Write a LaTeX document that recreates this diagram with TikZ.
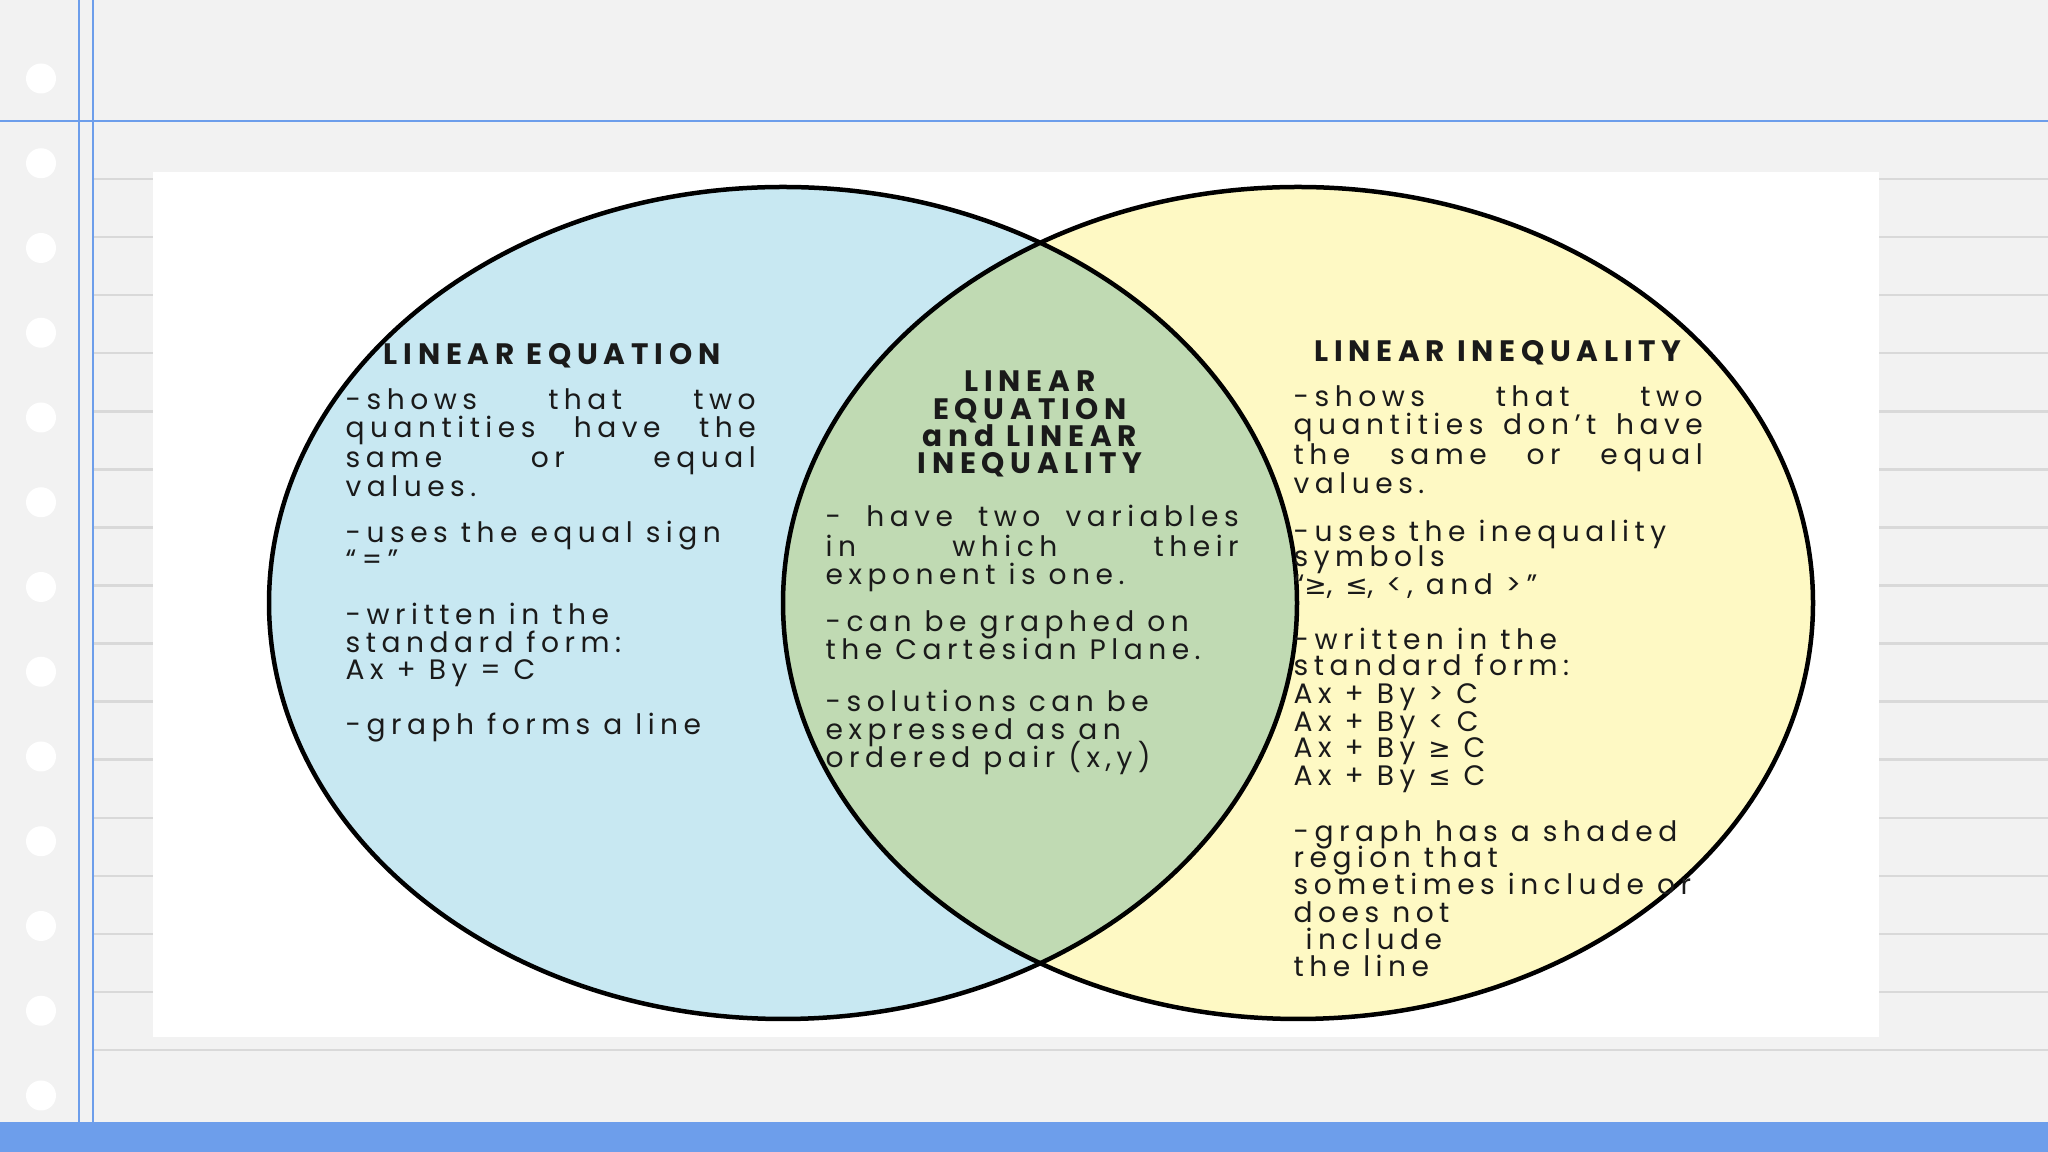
\documentclass[tikz,border=0pt]{standalone}
\usepackage{fontspec}
\newfontfamily\bodyf{Poppins}[LetterSpace=19.5]
\newfontfamily\symf{DejaVu Sans}
\definecolor{bgc}{HTML}{F2F2F2}
\definecolor{rule}{HTML}{D9D9D9}
\definecolor{blueln}{HTML}{6D9EEB}
\definecolor{cblue}{HTML}{C8E8F2}
\definecolor{cyel}{HTML}{FEF9C4}
\definecolor{cgreen}{HTML}{C0DAB3}
\definecolor{ink}{HTML}{1A1A1A}
\tikzset{
  txt/.style={font=\bodyf\fontsize{8.0}{10}\selectfont, text=ink, inner sep=0pt, anchor=base west},
  hd/.style={font=\bodyf\bfseries\fontsize{8.4}{10}\selectfont, text=ink, inner sep=0pt, anchor=base},
  venn/.style={draw=black, line width=0.45mm},
}
\newcommand\tl[4]{\node[txt] (#1) at (#2,#3) {#4};}
\newcommand\sy[1]{{\symf\fontsize{7.6}{10}\selectfont #1}}
\begin{document}
\begin{tikzpicture}[x=0.1mm,y=-0.1mm]
\useasboundingbox (0,0) rectangle (2048,1152);
% background
\fill[bgc] (0,0) rectangle (2048,1152);
\foreach \k in {0,...,15} \draw[rule, line width=0.25mm] (93,{179+58.07*\k}) -- (2048,{179+58.07*\k});
\fill[blueln] (0,1122) rectangle (2048,1152);
\draw[blueln, line width=0.25mm] (0,121) -- (2048,121);
\draw[blueln, line width=0.25mm] (79,0) -- (79,1122);
\draw[blueln, line width=0.25mm] (93,0) -- (93,1122);
\foreach \k in {0,...,12} \fill[white] (41,{78.5+84.75*\k}) circle[radius=1.5mm];
% white panel
\fill[white] (153,172) rectangle (1879,1037);
% venn
\fill[cblue] (783,603) ellipse[x radius=51.4mm, y radius=41.6mm];
\fill[cyel] (1298,603) ellipse[x radius=51.5mm, y radius=41.6mm];
\begin{scope}
  \clip (783,603) ellipse[x radius=51.4mm, y radius=41.6mm];
  \fill[cgreen] (1298,603) ellipse[x radius=51.5mm, y radius=41.6mm];
\end{scope}
\draw[venn] (783,603) ellipse[x radius=51.4mm, y radius=41.6mm];
\draw[venn] (1298,603) ellipse[x radius=51.5mm, y radius=41.6mm];
% left block
\node[hd] (lh) at (552,365) {LINEAR EQUATION};
\tl{l1}{345}{410}{\makebox[41mm][s]{-shows that two}}
\tl{l2}{345}{438}{\makebox[41mm][s]{quantities have the}}
\tl{l3}{345}{468}{\makebox[41mm][s]{same or equal}}
\tl{l4}{345}{497}{values.}
\tl{l5}{345}{543}{-uses the equal sign}
\tl{l6}{345}{570}{“=”}
\tl{l7}{345}{625}{-written in the}
\tl{l8}{345}{653}{standard form:}
\tl{l9}{345}{680}{Ax + By = C}
\tl{l10}{345}{735}{-graph forms a line}
% middle block
\node[hd] (mh1) at (1030,392) {LINEAR};
\node[hd] (mh2) at (1030,420) {EQUATION};
\node[hd] (mh3) at (1030,447) {and LINEAR};
\node[hd] (mh4) at (1030,474) {INEQUALITY};
\tl{m1}{825}{527}{\makebox[41.3mm][s]{- have two variables}}
\tl{m2}{825}{557}{\makebox[41.3mm][s]{in which their}}
\tl{m3}{825}{585}{exponent is one.}
\tl{m4}{825}{632}{-can be graphed on}
\tl{m5}{825}{660}{the Cartesian Plane.}
\tl{m6}{825}{712}{-solutions can be}
\tl{m7}{825}{740}{expressed as an}
\tl{m8}{825}{768}{ordered pair (x,y)}
% right block
\node[hd] (rh) at (1498,362) {LINEAR INEQUALITY};
\tl{r1}{1293}{407}{\makebox[40.9mm][s]{-shows that two}}
\tl{r2}{1293}{435}{\makebox[40.9mm][s]{quantities don’t have}}
\tl{r3}{1293}{465}{\makebox[40.9mm][s]{the same or equal}}
\tl{r4}{1293}{494}{values.}
\tl{r5}{1293}{542}{-uses the inequality}
\tl{r6}{1293}{567}{symbols}
\tl{r7}{1293}{595}{“\sy{≥}, \sy{≤}, <, and >”}
\tl{r8}{1293}{650}{-written in the}
\tl{r9}{1293}{676}{standard form:}
\tl{r10}{1293}{704}{Ax + By > C}
\tl{r11}{1293}{732}{Ax + By < C}
\tl{r12}{1293}{758}{Ax + By \sy{≥} C}
\tl{r13}{1293}{786}{Ax + By \sy{≤} C}
\tl{r14}{1293}{842}{-graph has a shaded}
\tl{r15}{1293}{868}{region that}
\tl{r16}{1293}{895}{sometimes include or}
\tl{r17}{1293}{923}{does not}
\tl{r18}{1305}{950}{include}
\tl{r19}{1293}{977}{the line}
\end{tikzpicture}
\end{document}
